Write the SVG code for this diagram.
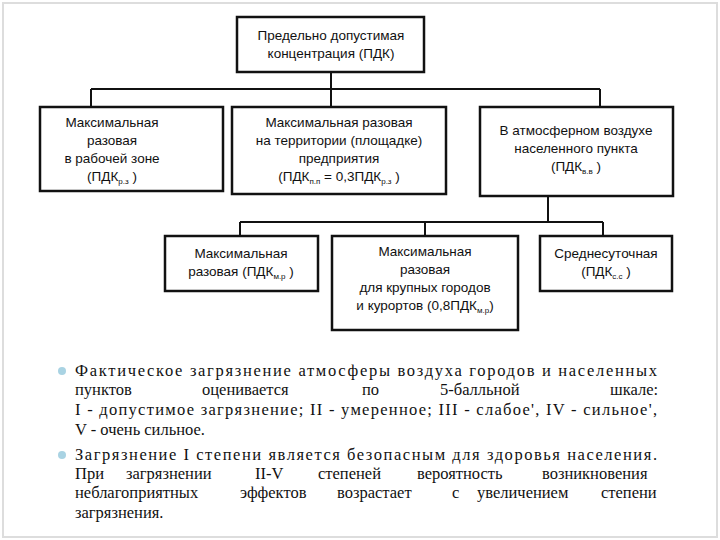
<svg xmlns="http://www.w3.org/2000/svg" width="720" height="540" viewBox="0 0 720 540">
<style>
.b{fill:#fff;stroke:#111;stroke-width:2.5}
.c{stroke:#111;stroke-width:2;fill:none}
.t{font-family:"Liberation Sans",Arial,sans-serif;font-size:13.5px;fill:#111;text-anchor:middle}
.s{font-size:8px}
.p{font-family:"Liberation Serif","Times New Roman",serif;font-size:16.5px;fill:#111}
</style>
<rect width="720" height="540" fill="#fff"/>
<rect x="3" y="3" width="714" height="534" fill="none" stroke="#ddd" stroke-width="2"/>
<g id="connectors">
<path class="c" d="M331 72V89M91 89H600M91 89V107M331 89V107M600 89V107"/>
<path class="c" d="M548 196V222M240 222H603M240 222V236M425 222V236M603 222V236"/>
</g>
<g id="n0"><rect class="b" x="237" y="17" width="187" height="55"/>
<text class="t" x="331" y="40">Предельно допустимая</text><text class="t" x="331" y="58">концентрация (ПДК)</text></g>
<g id="n1"><rect class="b" x="40" y="107" width="183" height="84"/>
<text class="t" x="112" y="127">Максимальная</text><text class="t" x="112" y="145">разовая</text><text class="t" x="112" y="163">в рабочей зоне</text><text class="t" x="112" y="181">(ПДК<tspan class="s" dy="3">р.з</tspan><tspan dy="-3"> )</tspan></text></g>
<g id="n2"><rect class="b" x="232" y="107" width="214" height="87"/>
<text class="t" x="339" y="127">Максимальная разовая</text><text class="t" x="339" y="145">на территории (площадке)</text><text class="t" x="339" y="163">предприятия</text><text class="t" x="339" y="181">(ПДК<tspan class="s" dy="3">п.п</tspan><tspan dy="-3"> = 0,3ПДК</tspan><tspan class="s" dy="3">р.з</tspan><tspan dy="-3"> )</tspan></text></g>
<g id="n3"><rect class="b" x="480" y="107" width="193" height="89"/>
<text class="t" x="576" y="135">В атмосферном воздухе</text><text class="t" x="576" y="153">населенного пункта</text><text class="t" x="576" y="171">(ПДК<tspan class="s" dy="3">в.в</tspan><tspan dy="-3"> )</tspan></text></g>
<g id="n4"><rect class="b" x="165" y="236" width="153" height="55"/>
<text class="t" x="241" y="258">Максимальная</text><text class="t" x="241" y="276">разовая (ПДК<tspan class="s" dy="3">м.р</tspan><tspan dy="-3"> )</tspan></text></g>
<g id="n5"><rect class="b" x="332" y="236" width="186" height="94"/>
<text class="t" x="425" y="256">Максимальная</text><text class="t" x="425" y="274">разовая</text><text class="t" x="425" y="292">для крупных городов</text><text class="t" x="425" y="310">и курортов (0,8ПДК<tspan class="s" dy="3">м.р</tspan><tspan dy="-3">)</tspan></text></g>
<g id="n6"><rect class="b" x="540" y="236" width="132" height="55"/>
<text class="t" x="606" y="258">Среднесуточная</text><text class="t" x="606" y="276">(ПДК<tspan class="s" dy="3">с.с</tspan><tspan dy="-3"> )</tspan></text></g>
<g id="text">
<circle cx="62" cy="371" r="4" fill="#a9d3e3"/>
<circle cx="62" cy="455" r="4" fill="#a9d3e3"/>
<text class="p" x="75" y="376" textLength="582" lengthAdjust="spacing">Фактическое загрязнение атмосферы воздуха городов и населенных</text>
<text class="p" y="395"><tspan x="75">пунктов</tspan><tspan x="202">оценивается</tspan><tspan x="362">по</tspan><tspan x="440">5-балльной</tspan><tspan x="610">шкале:</tspan></text>
<text class="p" x="75" y="415" textLength="582" lengthAdjust="spacing">I - допустимое загрязнение; II - умеренное; III - слабое', IV - сильное',</text>
<text class="p" x="75" y="435">V - очень сильное.</text>
<text class="p" x="75" y="460" textLength="582" lengthAdjust="spacing">Загрязнение I степени является безопасным для здоровья населения.</text>
<text class="p" y="479"><tspan x="75">При</tspan><tspan x="126">загрязнении</tspan><tspan x="255">II-V</tspan><tspan x="318">степеней</tspan><tspan x="417">вероятность</tspan><tspan x="542">возникновения</tspan></text>
<text class="p" y="498"><tspan x="75">неблагоприятных</tspan><tspan x="240">эффектов</tspan><tspan x="337">возрастает</tspan><tspan x="452">с</tspan><tspan x="477">увеличением</tspan><tspan x="601">степени</tspan></text>
<text class="p" x="75" y="518">загрязнения.</text>
</g>
</svg>
